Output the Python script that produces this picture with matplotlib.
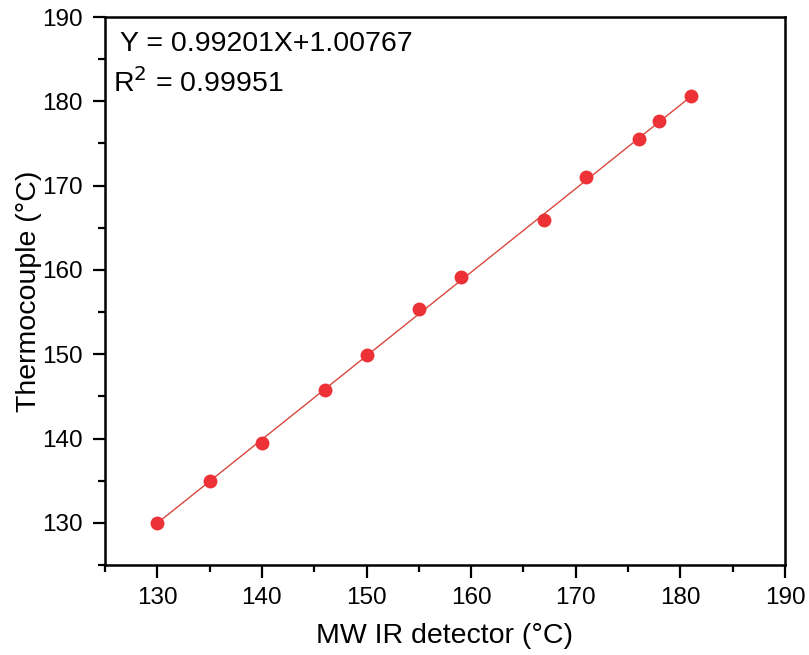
import matplotlib
matplotlib.use("Agg")
import matplotlib.pyplot as plt
import numpy as np
from matplotlib.ticker import MultipleLocator

plt.rcParams['font.family'] = ['Liberation Sans', 'DejaVu Sans']

mw_ir = [130, 135, 140, 146, 150, 155, 159, 167, 171, 176, 178, 181]
thermocouple = [130.0, 135.0, 139.5, 145.8, 149.9, 155.4, 159.2, 165.9, 171.0, 175.5, 177.7, 180.6]
slope = 0.99201
intercept = 1.00767
r2 = 0.99951

fig = plt.figure(figsize=(8.09, 6.55), dpi=100)
ax = fig.add_axes([0.1298, 0.1374, 0.8405, 0.8366])

xf = np.array([min(mw_ir), max(mw_ir)])
ax.plot(xf, slope * xf + intercept, color='#D9483F', lw=1.0, zorder=2)
ax.plot(mw_ir, thermocouple, 'o', color='#EC3237', markersize=10, markeredgewidth=0, zorder=3)

ax.set_xlim(125, 190)
ax.set_ylim(125, 190)
ax.xaxis.set_minor_locator(MultipleLocator(5))
ax.yaxis.set_minor_locator(MultipleLocator(5))
ax.set_xticks(np.arange(130, 191, 10))
ax.set_yticks(np.arange(130, 191, 10))
ax.tick_params(which='major', direction='out', length=9, width=1.6, labelsize=17.5, pad=7,
               top=False, right=False)
ax.tick_params(which='minor', direction='out', length=5, width=1.6, top=False, right=False)
for s in ax.spines.values():
    s.set_linewidth(1.8)

ax.set_xlabel('MW IR detector (°C)', fontsize=20.5, labelpad=10)
ax.set_ylabel('Thermocouple (°C)', fontsize=20.5, labelpad=0)

ax.text(0.022, 0.95, f'Y = {slope:.5f}X+{intercept:.5f}', transform=ax.transAxes,
        fontsize=20.5, ha='left', va='center')
ax.text(0.012, 0.88, f'R$^2$ = {r2:.5f}', transform=ax.transAxes,
        fontsize=20.5, ha='left', va='center')

fig.savefig('out.png', dpi=100)
